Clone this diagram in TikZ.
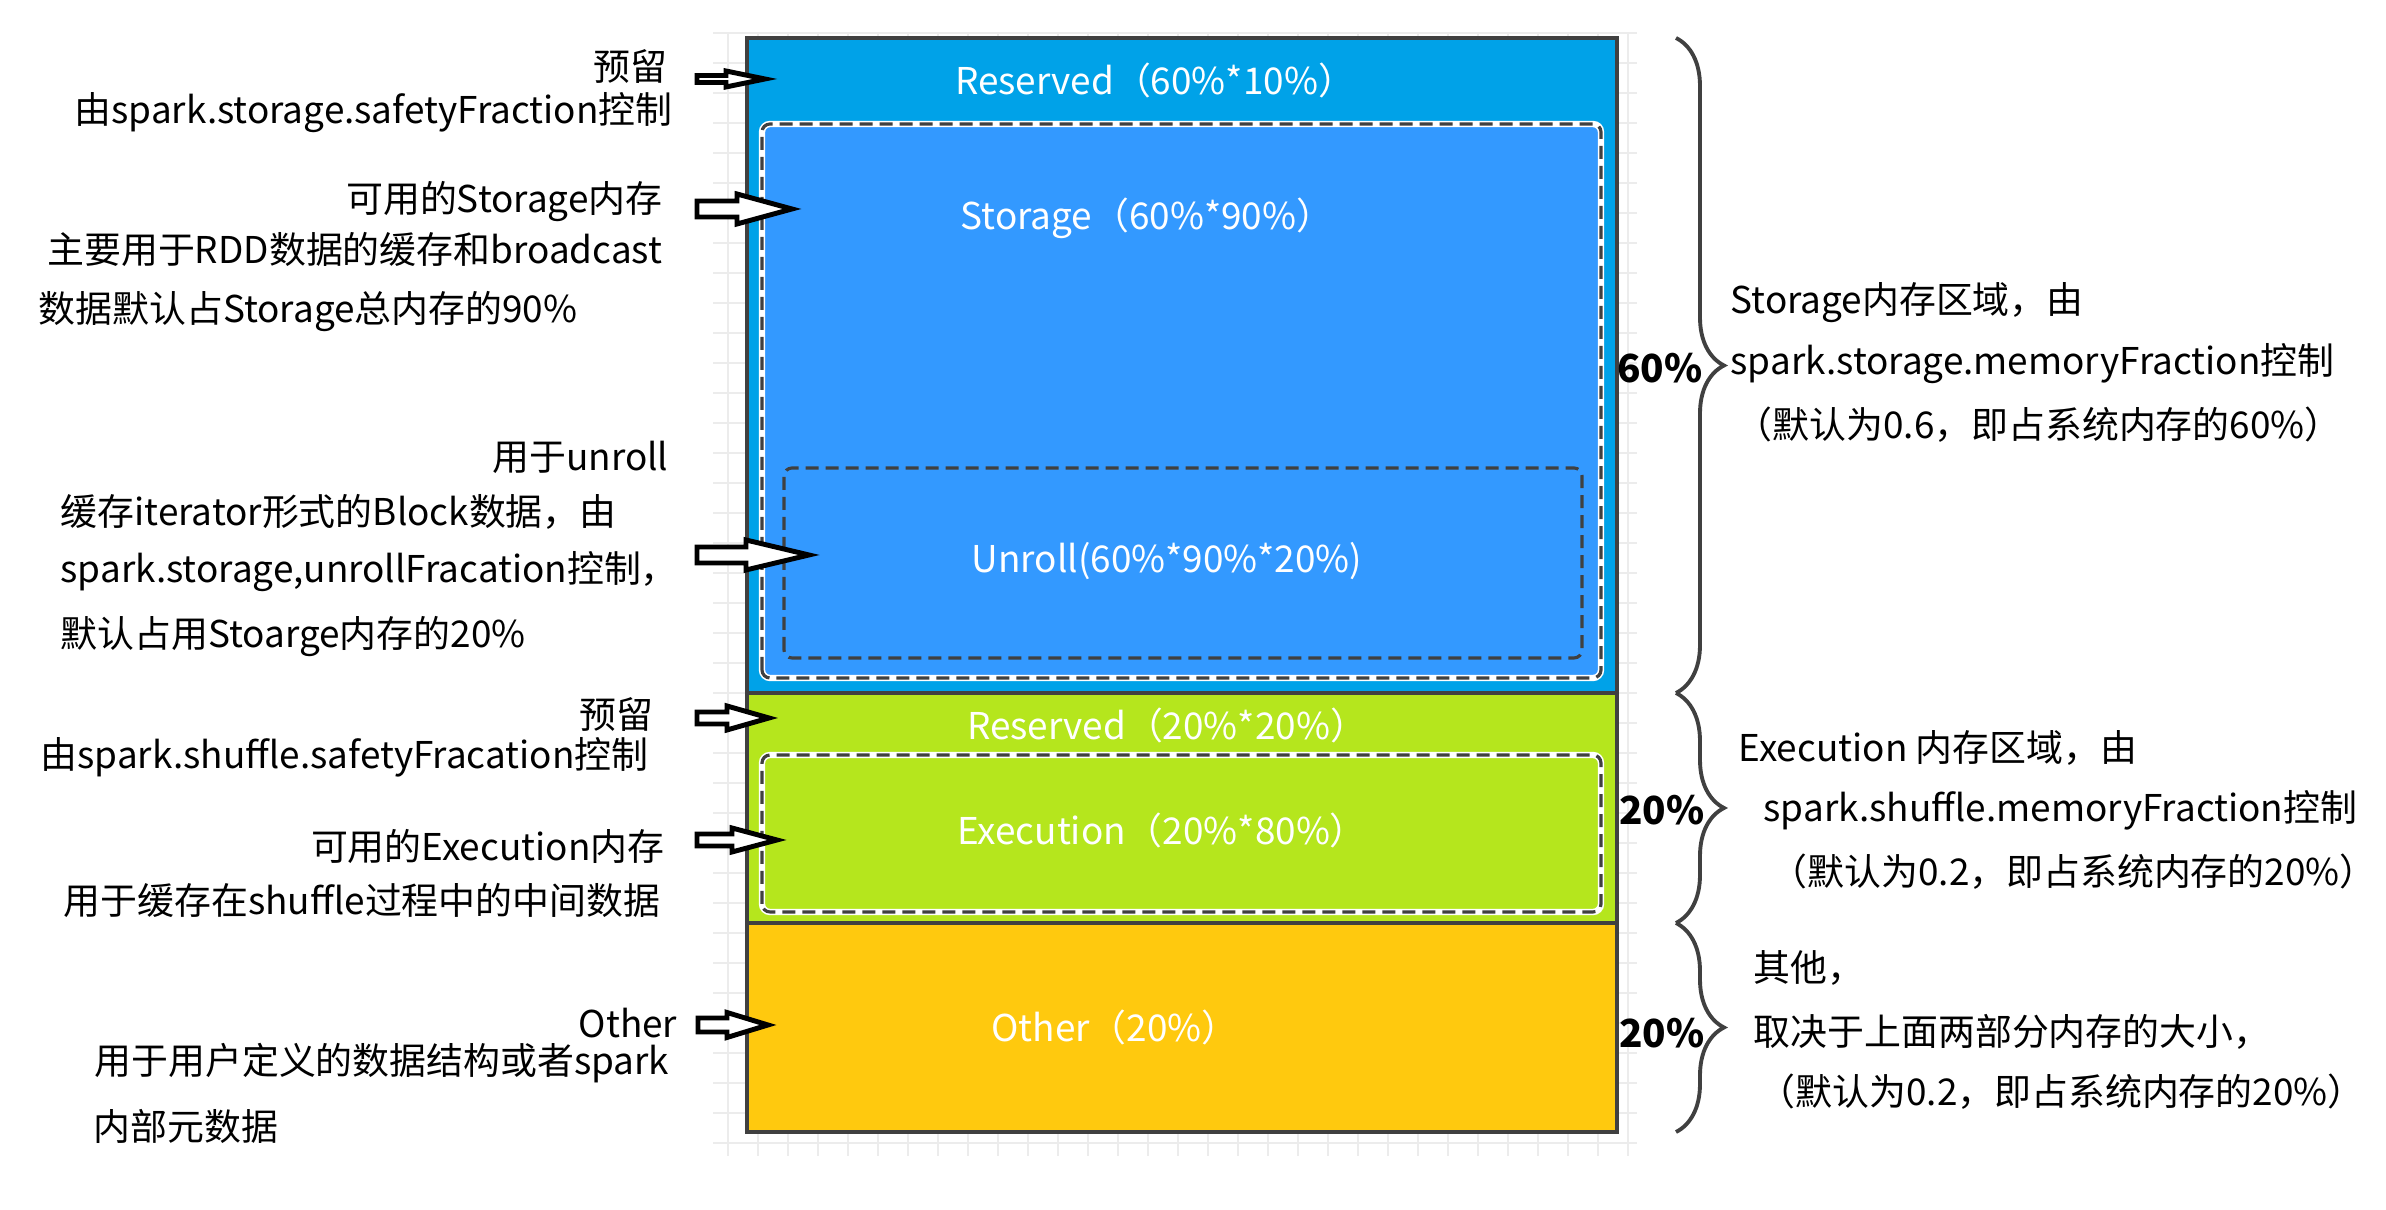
\documentclass[tikz,border=0pt]{standalone}
\usepackage{fontspec}
\setmainfont{Noto Sans CJK SC}
\usepackage{tikz}
\usetikzlibrary{arrows.meta}
\usetikzlibrary{decorations.pathreplacing}
\usetikzlibrary{calc,positioning}

\definecolor{azulres}{RGB}{0,162,232}
\definecolor{azulsto}{RGB}{51,153,255}
\definecolor{verde}{RGB}{181,230,29}
\definecolor{laranja}{RGB}{255,201,14}
\definecolor{borda}{RGB}{64,64,64}
\definecolor{grade}{RGB}{236,236,236}

\begin{document}
\begin{tikzpicture}[font=\fontsize{10.5}{12.6}\selectfont,
	txt/.style={inner sep=0pt},
	dentro/.style={inner sep=0pt, text=white},
	pct/.style={inner sep=0pt, font=\fontsize{11}{13}\selectfont\bfseries},
	seta/.style={draw=black, fill=white, line width=1.4pt, line join=miter},
	chave/.style={decorate, decoration={brace, amplitude=0.48cm}, draw=borda, line width=1.1pt},
	tracejado/.style={draw=borda, dash pattern=on 1.3mm off 0.7mm, line width=0.9pt, rounded corners=0.8mm}]

	\useasboundingbox (0,0) rectangle (23.86,12.10);

	% Grade de fundo
	\draw[step=0.3cm, grade, line width=0.7pt, shift={(0.08,0.07)}] (7.05,0.47) grid (16.29,11.70);

	% Faixas de memória
	\fill[azulres] (7.47,5.17) rectangle (16.17,11.72);
	\fill[verde] (7.47,2.87) rectangle (16.17,5.17);
	\fill[laranja] (7.47,0.78) rectangle (16.17,2.87);

	% Regiões tracejadas
	\draw[white, line width=1.8pt, rounded corners=0.8mm, fill=azulsto] (7.62,5.32) rectangle (16.01,10.86);
	\draw[tracejado] (7.62,5.32) rectangle (16.01,10.86);
	\draw[tracejado] (7.84,5.52) rectangle (15.82,7.42);
	\draw[white, line width=1.8pt, rounded corners=0.8mm] (7.62,2.98) rectangle (16.01,4.55);
	\draw[tracejado] (7.62,2.98) rectangle (16.01,4.55);

	% Contorno
	\draw[borda, line width=1pt] (7.47,5.17) -- (16.17,5.17);
	\draw[borda, line width=1pt] (7.47,2.87) -- (16.17,2.87);
	\draw[borda, line width=1.2pt] (7.47,0.78) rectangle (16.17,11.72);

	% Textos das faixas
	\node[dentro] (res1) at (11.55,11.30) {Reserved（60\%*10\%）};
	\node[dentro] (sto) at (11.47,9.92) {Storage（60\%*90\%）};
	\node[dentro] (unr) at (11.67,6.49) {Unroll(60\%*90\%*20\%)};
	\node[dentro] (res2) at (11.67,4.85) {Reserved（20\%*20\%）};
	\node[dentro] (exe) at (11.62,3.80) {Execution（20\%*80\%）};
	\node[dentro] (out) at (11.15,1.83) {Other（20\%）};

	% Chaves
	\draw[chave] (16.76,11.72) -- (16.76,5.17);
	\draw[chave] (16.76,5.17) -- (16.76,2.87);
	\draw[chave] (16.76,2.87) -- (16.76,0.78);
	\node[pct] (p60) at (16.60,8.42) {60\%};
	\node[pct] (p20a) at (16.62,4.00) {20\%};
	\node[pct] (p20b) at (16.62,1.77) {20\%};

	% Setas
	\draw[seta] (6.97,11.345) -- (7.26,11.345) -- (7.26,11.39) -- (7.65,11.31) -- (7.26,11.23) -- (7.26,11.275) -- (6.97,11.275) -- cycle;
	\draw[seta] (6.97,10.09) -- (7.37,10.09) -- (7.37,10.16) -- (7.92,10.01) -- (7.37,9.86) -- (7.37,9.93) -- (6.97,9.93) -- cycle;
	\draw[seta] (6.97,6.63) -- (7.46,6.63) -- (7.46,6.70) -- (8.09,6.55) -- (7.46,6.40) -- (7.46,6.47) -- (6.97,6.47) -- cycle;
	\draw[seta] (6.97,4.98) -- (7.27,4.98) -- (7.27,5.04) -- (7.69,4.92) -- (7.27,4.80) -- (7.27,4.86) -- (6.97,4.86) -- cycle;
	\draw[seta] (6.97,3.76) -- (7.32,3.76) -- (7.32,3.82) -- (7.77,3.70) -- (7.32,3.58) -- (7.32,3.64) -- (6.97,3.64) -- cycle;
	\draw[seta] (6.98,1.92) -- (7.27,1.92) -- (7.27,1.975) -- (7.68,1.85) -- (7.27,1.725) -- (7.27,1.78) -- (6.98,1.78) -- cycle;

	% Legendas da esquerda
	\node[txt, anchor=east] (resA) at (6.68,11.43) {预留};
	\node[txt, anchor=east] (resAb) at (6.73,10.97) {由spark.storage.safetyFraction控制};
	\node[txt, anchor=east] (stoA) at (6.63,10.08) {可用的Storage内存};
	\node[txt, anchor=east] (stoAb) at (6.63,9.60) {主要用于RDD数据的缓存和broadcast};
	\node[txt, anchor=west] (stoAc) at (0.38,8.98) {数据默认占Storage总内存的90\%};
	\node[txt, anchor=east] (unrA) at (6.69,7.53) {用于unroll};
	\node[txt, anchor=west] (unrAb) at (0.60,6.98) {缓存iterator形式的Block数据，由};
	\node[txt, anchor=west] (unrAc) at (0.60,6.38) {spark.storage,unrollFracation控制，};
	\node[txt, anchor=west] (unrAd) at (0.60,5.73) {默认占用Stoarge内存的20\%};
	\node[txt, anchor=east] (resB) at (6.54,4.95) {预留};
	\node[txt, anchor=east] (resBb) at (6.49,4.53) {由spark.shuffle.safetyFracation控制};
	\node[txt, anchor=east] (exeA) at (6.65,3.63) {可用的Execution内存};
	\node[txt, anchor=east] (exeAb) at (6.61,3.09) {用于缓存在shuffle过程中的中间数据};
	\node[txt, anchor=east] (outA) at (6.78,1.87) {Other};
	\node[txt, anchor=east] (outAb) at (6.70,1.47) {用于用户定义的数据结构或者spark};
	\node[txt, anchor=west] (outAc) at (0.93,0.84) {内部元数据};

	% Legendas da direita
	\node[txt, anchor=west] (dirA) at (17.30,9.07) {Storage内存区域，由};
	\node[txt, anchor=west] (dirAb) at (17.30,8.46) {spark.storage.memoryFraction控制};
	\node[txt, anchor=west] (dirAc) at (17.35,7.85) {（默认为0.6，即占系统内存的60\%）};
	\node[txt, anchor=west] (dirB) at (17.38,4.62) {Execution 内存区域，由};
	\node[txt, anchor=west] (dirBb) at (17.63,4.00) {spark.shuffle.memoryFraction控制};
	\node[txt, anchor=west] (dirBc) at (17.70,3.38) {（默认为0.2，即占系统内存的20\%）};
	\node[txt, anchor=west] (dirC) at (17.53,2.42) {其他，};
	\node[txt, anchor=west] (dirCb) at (17.53,1.78) {取决于上面两部分内存的大小，};
	\node[txt, anchor=west] (dirCc) at (17.58,1.18) {（默认为0.2，即占系统内存的20\%）};

\end{tikzpicture}
\end{document}
